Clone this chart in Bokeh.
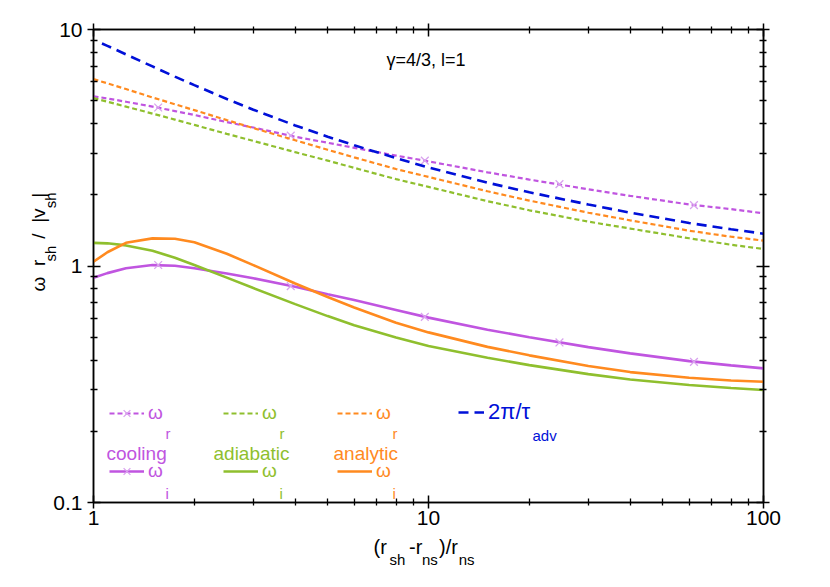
import math
from bokeh.plotting import figure
from bokeh.models import (Range1d, LogAxis, FixedTicker, CustomJSTickFormatter,
                          Label, Legend, LegendItem)
from bokeh.embed import file_html
from bokeh.resources import INLINE

# ---------------- data ----------------
x_grid = [1.0, 1.1, 1.25, 1.5, 1.75, 2.0, 2.5, 3.0, 4.0, 5.0, 6.0, 8.0, 10.0,
          15.0, 20.0, 30.0, 40.0, 60.0, 80.0, 100.0]

cooling_wr = [5.22, 5.11, 4.95, 4.72, 4.52, 4.35, 4.06, 3.85, 3.52, 3.32, 3.16,
              2.93, 2.77, 2.49, 2.32, 2.11, 1.98, 1.82, 1.74, 1.67]
adiabatic_wr = [5.13, 4.95, 4.72, 4.41, 4.16, 3.95, 3.62, 3.38, 3.03, 2.79, 2.60,
                2.33, 2.16, 1.88, 1.72, 1.54, 1.44, 1.31, 1.23, 1.18]
analytic_wr = [6.17, 5.92, 5.60, 5.16, 4.83, 4.56, 4.14, 3.83, 3.40, 3.10, 2.88,
               2.57, 2.38, 2.07, 1.89, 1.68, 1.56, 1.41, 1.33, 1.28]

cooling_wi = [0.891, 0.933, 0.979, 1.009, 1.002, 0.979, 0.929, 0.887, 0.817, 0.760,
              0.718, 0.652, 0.605, 0.538, 0.500, 0.454, 0.427, 0.396, 0.380, 0.369]
adiabatic_wi = [1.253, 1.247, 1.222, 1.159, 1.084, 1.009, 0.893, 0.807, 0.690, 0.614,
                0.562, 0.499, 0.459, 0.409, 0.381, 0.349, 0.331, 0.314, 0.305, 0.299]
analytic_wi = [1.042, 1.143, 1.253, 1.309, 1.303, 1.259, 1.127, 1.009, 0.843, 0.740,
               0.668, 0.575, 0.524, 0.455, 0.419, 0.378, 0.356, 0.337, 0.328, 0.324]

x_adv = [1.06, 1.1, 1.25, 1.5, 1.75, 2.0, 2.5, 3.0, 4.0, 5.0, 6.0, 8.0, 10.0,
         15.0, 20.0, 30.0, 40.0, 60.0, 80.0, 100.0]
two_pi_over_tau_adv = [8.73, 8.53, 7.85, 6.98, 6.32, 5.82, 5.08, 4.58, 3.93, 3.52,
                       3.24, 2.86, 2.61, 2.25, 2.05, 1.82, 1.68, 1.52, 1.43, 1.37]

marker_x = [1.56, 3.88, 9.75, 24.6, 62.0]
cooling_wr_marks = [4.68, 3.56, 2.79, 2.22, 1.81]
cooling_wi_marks = [1.01, 0.822, 0.609, 0.475, 0.393]

x_major = [1, 10, 100]
x_minor = [2, 3, 4, 5, 6, 7, 8, 9, 20, 30, 40, 50, 60, 70, 80, 90]
y_major = [0.1, 1, 10]
y_minor = [0.2, 0.3, 0.4, 0.5, 0.6, 0.7, 0.8, 0.9, 2, 3, 4, 5, 6, 7, 8, 9]

NB = "\u00a0"
x_label_main = "(r" + NB * 4 + "-r" + NB * 3 + ")/r"
x_label_sub = "sh" + NB * 4 + "ns" + NB * 5 + "ns"
y_label_main = "ω" + NB * 2 + "r" + NB * 4 + "/" + NB * 2 + "|v" + NB * 2 + "|"
y_label_sub = "sh" + NB * 9 + "sh"

# ---------------- style ----------------
PURPLE = "#c055e0"
MARK = "#d9a3ee"
GREEN = "#8fbf2e"
ORANGE = "#ff8a1f"
BLUE = "#0010d8"
FONT = "Liberation Sans"

p = figure(x_axis_type="log", y_axis_type="log",
           x_range=Range1d(1, 100), y_range=Range1d(0.1, 10),
           frame_width=670, frame_height=473,
           min_border_left=93, min_border_right=59,
           min_border_top=29, min_border_bottom=77,
           output_backend="svg", toolbar_location=None,
           background_fill_color="white", border_fill_color="white")
p.grid.visible = False
p.outline_line_color = "black"
p.outline_line_width = 1.5

p.add_layout(LogAxis(), "above")
p.add_layout(LogAxis(), "right")

label_fmt = CustomJSTickFormatter(code="return String(Number(tick.toPrecision(3)));")
blank_fmt = CustomJSTickFormatter(code="return '';")

for ax in p.xaxis:
    ax.ticker = FixedTicker(ticks=x_major, minor_ticks=x_minor)
for ax in p.yaxis:
    ax.ticker = FixedTicker(ticks=y_major, minor_ticks=y_minor)

for ax in list(p.xaxis) + list(p.yaxis):
    ax.axis_line_color = "black"
    ax.axis_line_width = 1.5
    ax.major_tick_line_color = "black"
    ax.major_tick_line_width = 1.5
    ax.minor_tick_line_color = "black"
    ax.minor_tick_line_width = 1.3
    ax.major_tick_in = 7
    ax.major_tick_out = 6
    ax.minor_tick_in = 4
    ax.minor_tick_out = 3
    ax.major_label_text_font = FONT
    ax.major_label_text_font_size = "21px"
    ax.major_label_text_color = "black"
    ax.axis_label = None

p.below[0].formatter = label_fmt
p.below[0].major_label_standoff = 2
p.left[0].formatter = label_fmt
p.left[0].major_label_standoff = 5
p.above[0].formatter = blank_fmt
p.right[0].formatter = blank_fmt
p.above[0].major_label_text_font_size = "1px"
p.right[0].major_label_text_font_size = "1px"

# ---------------- curves ----------------
r_cwr = p.line(x_grid, cooling_wr, line_color=PURPLE, line_width=2.2, line_dash="5 3")
m_cwr = p.scatter(marker_x, cooling_wr_marks, marker="x", size=11,
                  line_color=MARK, line_width=1.3)
r_awr = p.line(x_grid, adiabatic_wr, line_color=GREEN, line_width=2.2, line_dash="5 3")
r_nwr = p.line(x_grid, analytic_wr, line_color=ORANGE, line_width=2.2, line_dash="5 3")
r_adv = p.line(x_adv, two_pi_over_tau_adv, line_color=BLUE, line_width=2.6, line_dash="10 6")

r_cwi = p.line(x_grid, cooling_wi, line_color=PURPLE, line_width=2.6)
m_cwi = p.scatter(marker_x, cooling_wi_marks, marker="x", size=11,
                  line_color=MARK, line_width=1.3)
r_awi = p.line(x_grid, adiabatic_wi, line_color=GREEN, line_width=2.6)
r_nwi = p.line(x_grid, analytic_wi, line_color=ORANGE, line_width=2.6)

# ---------------- legend ----------------
def add_legend(text, renderers, color, vx, vy, glyph_w=35, size="19px"):
    lg = Legend(items=[LegendItem(label=text, renderers=renderers)],
                location=(vx, vy), orientation="vertical",
                glyph_width=glyph_w, glyph_height=24, label_height=24,
                label_standoff=4, padding=0, spacing=0, margin=0,
                border_line_color=None, background_fill_color=None,
                background_fill_alpha=0,
                label_text_font=FONT, label_text_font_size=size,
                label_text_color=color, label_text_baseline="middle")
    p.add_layout(lg)

add_legend("ω", [r_cwr, m_cwr], PURPLE, 16, 77)
add_legend("ω", [r_cwi, m_cwi], PURPLE, 16, 19)
add_legend("ω", [r_awr], GREEN, 130, 77)
add_legend("ω", [r_awi], GREEN, 130, 19)
add_legend("ω", [r_nwr], ORANGE, 244, 77)
add_legend("ω", [r_nwi], ORANGE, 244, 19)
add_legend("2π/τ", [r_adv], BLUE, 365, 77, glyph_w=26, size="22px")

# ---------------- texts ----------------
def lab(text, x, y, size, color="black", angle=0.0, place=None):
    lb = Label(x=x, y=y, x_units="screen", y_units="screen", text=text,
               text_font=FONT, text_font_size=size, text_color=color,
               text_align="left", text_baseline="alphabetic",
               angle=angle, angle_units="rad")
    if place is None:
        p.add_layout(lb)
    else:
        p.add_layout(lb, place)

# subscripts and group names of the legend
lab("r", 72, 69, "15px", PURPLE)
lab("i", 72, 9, "15px", PURPLE)
lab("r", 186, 69, "15px", GREEN)
lab("i", 186, 9, "15px", GREEN)
lab("r", 299, 69, "15px", ORANGE)
lab("i", 299, 9, "15px", ORANGE)
lab("adv", 439, 67, "15px", BLUE)
lab("cooling", 13, 49, "19px", PURPLE)
lab("adiabatic", 120, 49, "19px", GREEN)
lab("analytic", 240, 49, "19px", ORANGE)

# annotation
lab("γ=4/3, l=1", 293, 443, "18px")

# x axis label: (r_sh - r_ns)/r_ns   (panel below the frame)
lab(x_label_main, 280, 3, "20px", place="below")
lab(x_label_sub, 296, 7, "15px", place="below")

# y axis label: ω r_sh / |v_sh|   (panel left of the frame)
A = math.pi / 2
lab(y_label_main, 9, 211, "19px", angle=A, place="left")
lab(y_label_sub, 38, 241, "15px", angle=A, place="left")

open("out.html", "w").write(file_html(p, INLINE))
